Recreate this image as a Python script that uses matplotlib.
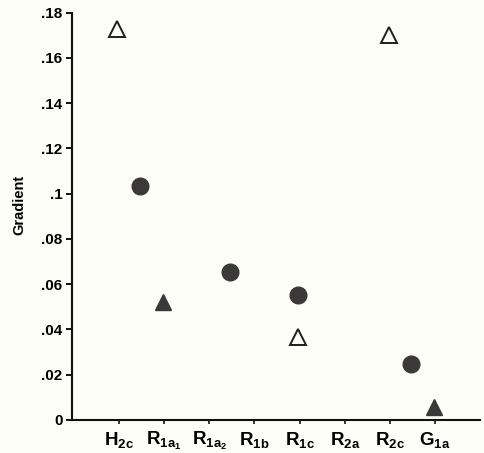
import matplotlib
matplotlib.use("Agg")
import matplotlib.pyplot as plt

plt.rcParams['font.family'] = ['Liberation Sans', 'DejaVu Sans']
plt.rcParams['mathtext.fontset'] = 'custom'
plt.rcParams['mathtext.bf'] = 'Liberation Sans:bold'
plt.rcParams['mathtext.default'] = 'bf'

# categories along the x axis
categories = [r'$H_{2c}$', r'$R_{1a_1}$', r'$R_{1a_2}$', r'$R_{1b}$',
              r'$R_{1c}$', r'$R_{2a}$', r'$R_{2c}$', r'$G_{1a}$']

# filled circles (sit between categories)
circle_x = [0.47, 2.47, 3.97, 6.47]
circle_y = [0.1035, 0.0655, 0.0552, 0.0247]

# filled triangles
ftri_x = [0.97, 6.98]
ftri_y = [0.0521, 0.0057]

# open triangles
otri_x = [-0.05, 3.97, 5.98]
otri_y = [0.1727, 0.0367, 0.170]

yticks = [0, .02, .04, .06, .08, .1, .12, .14, .16, .18]
ytick_labels = ['0', '.02', '.04', '.06', '.08', '.1', '.12', '.14', '.16', '.18']

bg = '#fdfdf7'
fig = plt.figure(figsize=(4.85, 4.53), dpi=100, facecolor=bg)
ax = fig.add_axes([0.149, 0.073, 0.841, 0.899], facecolor=bg)

ax.plot(circle_x, circle_y, 'o', ms=12, color='#3b3839', mec='#3b3839', ls='none')
ax.plot(ftri_x, ftri_y, '^', ms=11, color='#3b3839', mec='#3b3839', ls='none')
ax.plot(otri_x, otri_y, '^', ms=11.2, mfc='none', mec='#1e1e1e', mew=1.4, ls='none')

ax.set_xlim(-1.035, 8.0)
ax.set_ylim(0, 0.18)

ax.set_xticks(range(len(categories)))
ax.set_xticklabels(categories, fontsize=13.5)
ax.set_yticks(yticks)
ax.set_yticklabels(ytick_labels, fontsize=11, fontweight='bold')

ax.set_ylabel('Gradient', fontsize=10.5, fontweight='bold')
ax.yaxis.set_label_coords(-0.112, 0.528)

for s in ['top', 'right']:
    ax.spines[s].set_visible(False)
for s in ['left', 'bottom']:
    ax.spines[s].set_linewidth(1.5)
    ax.spines[s].set_color('#111111')

ax.tick_params(axis='y', direction='out', length=4, width=1.3, pad=3)
ax.tick_params(axis='x', direction='out', length=3, width=1.1, pad=4)

fig.savefig('out.png', dpi=100, facecolor=bg)
